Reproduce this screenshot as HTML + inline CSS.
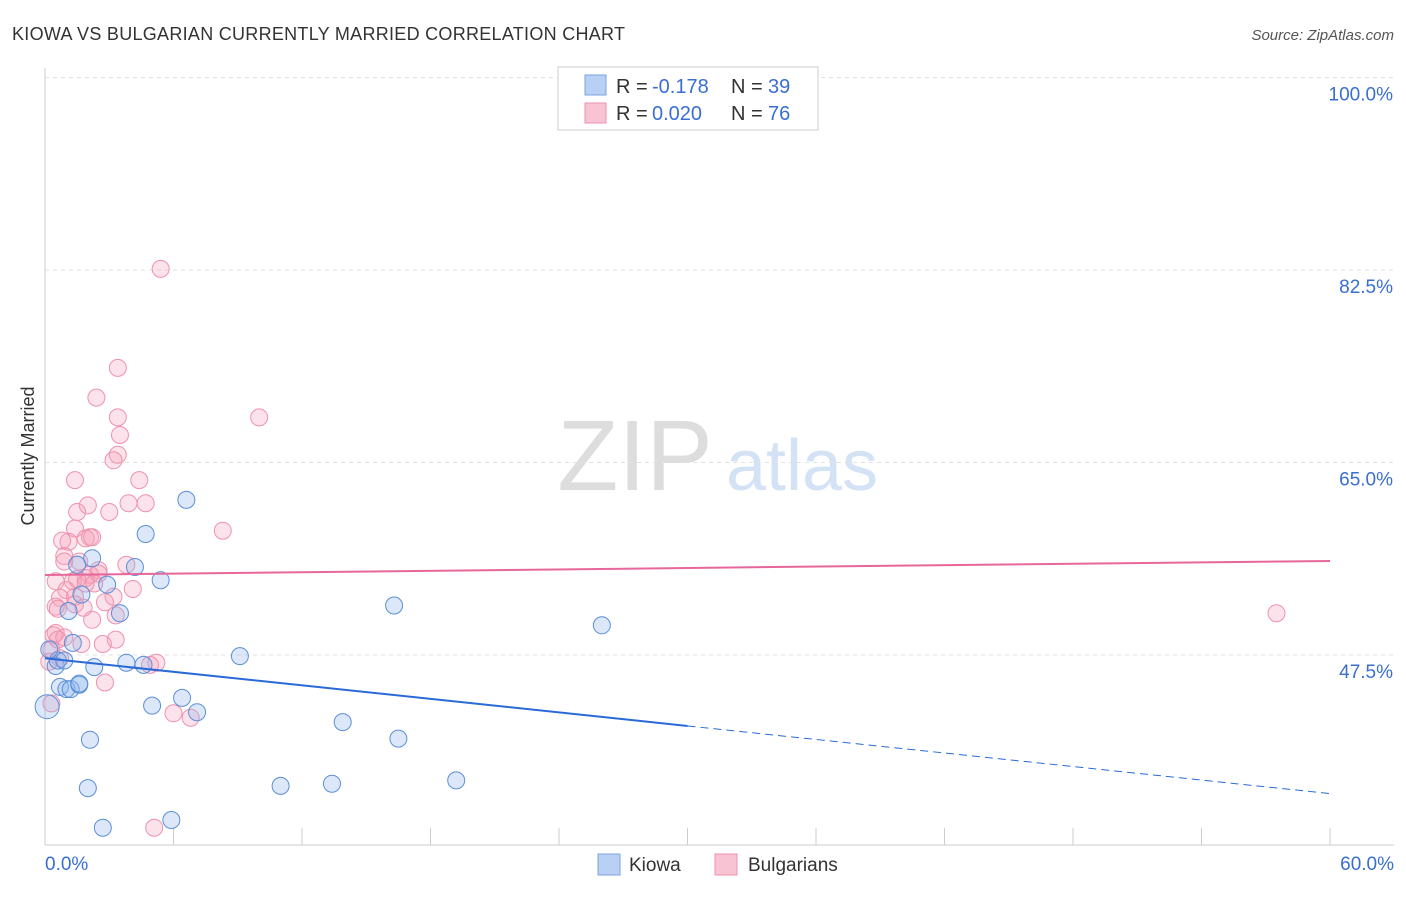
<!DOCTYPE html>
<html><head><meta charset="utf-8"><style>
body{margin:0;background:#fff;font-family:"Liberation Sans",sans-serif}
svg text{font-family:"Liberation Sans",sans-serif}
</style></head><body>
<svg id="chart" width="1406" height="892" viewBox="0 0 1406 892">
<text x="12" y="40" font-size="18" fill="#333" textLength="613">KIOWA VS BULGARIAN CURRENTLY MARRIED CORRELATION CHART</text>
<text x="1394" y="40" font-size="15" fill="#555" font-style="italic" text-anchor="end">Source: ZipAtlas.com</text>
<text x="635" y="490" font-size="100" fill="#ddd" font-family="Liberation Serif" text-anchor="middle">ZIP</text>
<text x="802" y="490" font-size="72" fill="#d4e2f5" text-anchor="middle">atlas</text>
<g id="grid"></g>
<line x1="45" y1="68" x2="45" y2="845" stroke="#ccc"/>
<line x1="45" y1="845" x2="1394" y2="845" stroke="#ccc"/>
<text x="34" y="456" font-size="18" fill="#333" text-anchor="middle" transform="rotate(-90 34 456)">Currently Married</text>
<text x="45" y="870" font-size="19" fill="#3a6fd0">0.0%</text>
<text x="1394" y="870" font-size="19" fill="#3a6fd0" text-anchor="end">60.0%</text>
<g id="pts"></g>
<g id="lines"></g>
<g>
<rect x="558" y="67" width="260" height="63" fill="#fff" stroke="#ccc"/>
<rect x="585" y="75" width="21" height="20" fill="#b8d0f3" stroke="#7aa3e0"/>
<rect x="585" y="103" width="21" height="20" fill="#f8c4d4" stroke="#ee92ae"/>
<text x="616" y="93" font-size="20" fill="#333">R =</text><text x="652" y="93" font-size="20" fill="#3a6fd0">-0.178</text>
<text x="731" y="93" font-size="20" fill="#333">N =</text><text x="768" y="93" font-size="20" fill="#3a6fd0">39</text>
<text x="616" y="120" font-size="20" fill="#333">R =</text><text x="652" y="120" font-size="20" fill="#3a6fd0">0.020</text>
<text x="731" y="120" font-size="20" fill="#333">N =</text><text x="768" y="120" font-size="20" fill="#3a6fd0">76</text>
</g>
<g><rect x="598" y="854" width="22" height="21" fill="#b8d0f3" stroke="#7aa3e0"/><text x="629" y="871" font-size="19" fill="#333">Kiowa</text></g>
<g><rect x="715" y="854" width="22" height="21" fill="#f8c4d4" stroke="#ee92ae"/><text x="748" y="871" font-size="19" fill="#333">Bulgarians</text></g>
</svg>
<script>
const yTicks=[100,82.5,65,47.5];
const xTicks=[0,6,12,18,24,30,36,42,48,54,60];
const kiowaX=[0.1,0.5,0.6,0.7,1.0,1.2,0.9,1.3,1.6,1.6,2.1,2.0,2.3,2.7,2.2,1.5,1.7,2.9,3.5,3.8,4.2,4.7,4.6,5.0,5.4,5.9,6.4,6.6,7.1,9.1,11.0,13.4,13.9,16.3,16.5,19.2,26.0,1.1,0.2];
const kiowaY=[42.8,46.5,47.0,44.6,44.4,44.4,47.0,48.6,44.8,44.9,39.8,35.4,46.4,31.8,56.3,55.7,53.0,53.9,51.3,46.8,55.5,58.5,46.6,42.9,54.3,32.5,43.6,61.6,42.3,47.4,35.6,35.8,41.4,52.0,39.9,36.1,50.2,51.5,48.0];
const bulgX=[5.4,3.4,2.4,10.0,3.4,3.5,3.4,3.2,1.4,4.4,2.0,3.9,4.7,3.0,1.5,8.3,1.4,2.1,1.9,2.2,1.1,0.9,0.9,1.6,3.8,2.5,2.5,2.1,1.9,0.5,1.3,1.5,1.9,2.3,4.1,1.0,1.4,3.2,0.7,2.8,1.4,0.5,1.8,0.6,3.3,2.2,0.5,0.4,0.9,0.6,3.3,2.7,1.7,0.3,0.7,0.2,5.2,4.9,2.8,6.0,6.8,5.1,0.3,57.5,0.8];
const bulgY=[82.6,73.6,70.9,69.1,69.1,67.5,65.7,65.2,63.4,63.4,61.1,61.3,61.3,60.5,60.5,58.8,59.0,58.2,58.1,58.2,57.8,56.5,56.0,56.0,55.7,55.2,54.9,54.8,54.5,54.2,54.2,54.4,54.0,54.0,53.5,53.4,52.8,52.8,52.7,52.3,52.1,51.9,51.8,51.7,51.1,50.7,49.5,49.3,49.1,48.9,48.9,48.5,48.5,48.0,47.2,46.9,46.8,46.6,45.0,42.2,41.8,31.8,43.1,51.3,57.9];
const X=p=>45+p*21.417, Y=v=>655-(v-47.5)*11;
const NS="http://www.w3.org/2000/svg";
const mk=(t,a,parent)=>{const e=document.createElementNS(NS,t);for(const k in a)e.setAttribute(k,a[k]);parent.appendChild(e);return e;};
const grid=document.getElementById('grid');
yTicks.forEach(v=>{
 const l=mk('line',{x1:45,x2:1394,y1:Y(v),y2:Y(v),stroke:'#e2e2e2','stroke-dasharray':'4,4'},grid);
 
 
 const t=mk('text',{x:1393,y:Y(v)+23,'font-size':19,fill:'#3a6fd0','text-anchor':'end'},grid);
 t.textContent=v.toFixed(1)+'%';
 
 
});
xTicks.forEach(p=>{
 const l=mk('line',{x1:X(p),x2:X(p),y1:828,y2:845,stroke:'#ccc'},grid);
 
 
});
const pts=document.getElementById('pts');
bulgX.forEach((p,i)=>{
 const c=mk('circle',{cx:X(p),cy:Y(bulgY[i]),r:8.5,fill:'rgba(244,160,186,0.3)',stroke:'#ee92ae','stroke-width':1},pts);
 
 
});
kiowaX.forEach((p,i)=>{
 const c=mk('circle',{cx:X(p),cy:Y(kiowaY[i]),r:i==0?12:8.5,fill:'rgba(140,180,235,0.3)',stroke:'#5b8fd8','stroke-width':1},pts);
 
 
});
const lines=document.getElementById('lines');
const kb=[47.2,-0.205], pb=[54.77,0.0213];
let l=mk('line',{x1:X(0),y1:Y(kb[0]),x2:X(30),y2:Y(kb[0]+kb[1]*30),stroke:'#2a6ad8','stroke-width':2},lines);


l=mk('line',{x1:X(30),y1:Y(kb[0]+kb[1]*30),x2:X(60),y2:Y(kb[0]+kb[1]*60),stroke:'#2a6ad8','stroke-width':1,'stroke-dasharray':'8,5'},lines);


l=mk('line',{x1:X(0),y1:Y(pb[0]),x2:X(60),y2:Y(pb[0]+pb[1]*60),stroke:'#e8679a','stroke-width':2},lines);


</script>
</body></html>
